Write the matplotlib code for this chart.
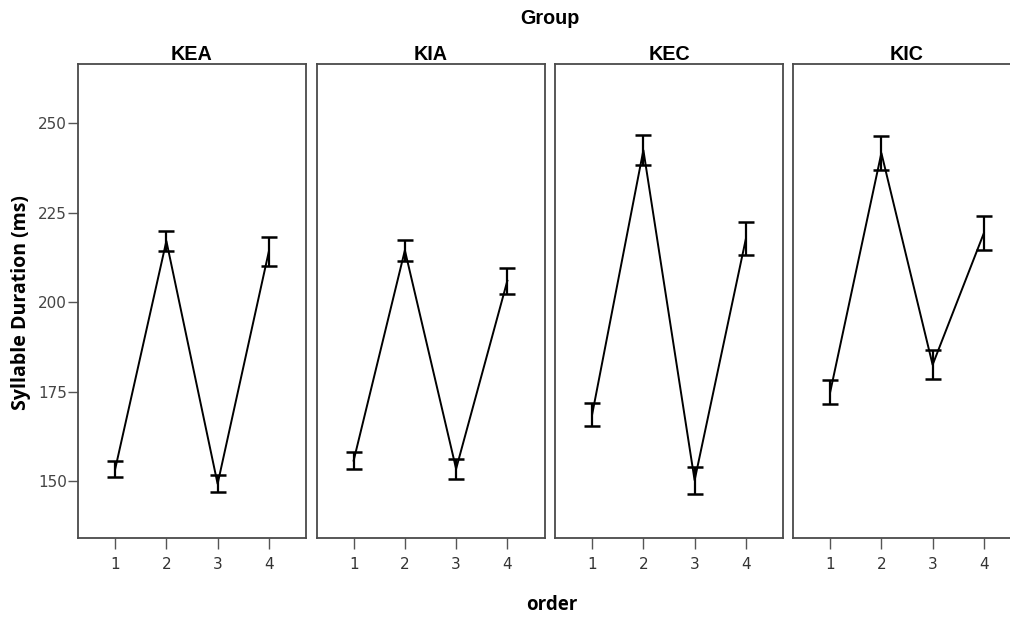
#!/usr/bin/python3

from matplotlib import pyplot as plt
import numpy as np


groups = ['KEA', 'KIA', 'KEC', 'KIC']
order = [1, 2, 3, 4]

# mean syllable duration (ms) per order position, and error bar half-widths
kea_mean = [153.3, 217.1, 149.2, 214.2]
kea_err = [2.3, 2.8, 2.4, 4.1]
kia_mean = [155.7, 214.5, 153.4, 206.0]
kia_err = [2.3, 3.0, 2.8, 3.6]
kec_mean = [168.6, 242.5, 150.2, 217.7]
kec_err = [3.3, 4.2, 3.8, 4.6]
kic_mean = [174.8, 241.7, 182.5, 219.3]
kic_err = [3.4, 4.8, 4.1, 4.8]

means = [kea_mean, kia_mean, kec_mean, kic_mean]
errs = [kea_err, kia_err, kec_err, kic_err]

y_ticks = [150, 175, 200, 225, 250]

W, H = 1010, 618
tick_font = ['Liberation Sans Narrow', 'DejaVu Sans']
box_col = '#4a4a4a'


def main():
    fig = plt.figure(figsize=(W / 100, H / 100), dpi=100)
    lefts = [78, 316.5, 555, 793]
    top, bottom = 64, 537.5
    pw = 228

    for i, (name, m, e) in enumerate(zip(groups, means, errs)):
        ax = fig.add_axes([lefts[i] / W, (H - bottom) / H, pw / W, (bottom - top) / H])
        ax.plot(order, m, color='black', lw=1.4, zorder=3)
        ax.errorbar(order, m, yerr=e, fmt='none', ecolor='black', elinewidth=1.6,
                    capsize=5.5, capthick=1.8, zorder=4)
        ax.set_xlim(0.275, 4.725)
        ax.set_ylim(134.2, 266.6)
        ax.set_xticks(order)
        ax.set_xticklabels([str(o) for o in order], family=tick_font, fontsize=11,
                           color='#333333')
        ax.tick_params(axis='x', length=8, width=1.0, color='#555555', pad=6)
        ax.set_yticks(y_ticks)
        if i == 0:
            ax.set_yticklabels([str(t) for t in y_ticks], family=tick_font, fontsize=11,
                               color='#444444')
            ax.tick_params(axis='y', length=7, width=1.0, color='#555555', pad=1)
        else:
            ax.tick_params(axis='y', length=0, labelleft=False)
        for s in ax.spines.values():
            s.set_color(box_col)
            s.set_linewidth(1.3)
        ax.set_title(name, fontsize=14.2, fontweight='bold', family='Liberation Sans', pad=3)

    fig.text(550 / W, 1 - 19 / H, 'Group', ha='center', va='center', fontsize=14.2,
             fontweight='bold', family='Liberation Sans')
    fig.text(552 / W, 1 - 605 / H, 'order', ha='center', va='center', fontsize=13.5,
             fontweight='bold', family='Open Sans')
    fig.text(21 / W, 1 - 303 / H, 'Syllable Duration (ms)', ha='center', va='center',
             rotation=90, fontsize=14, fontweight='bold', family='Open Sans')

    fig.savefig('out.png', dpi=100, facecolor='white')
    plt.close(fig)


if __name__ == "__main__":
    main()
